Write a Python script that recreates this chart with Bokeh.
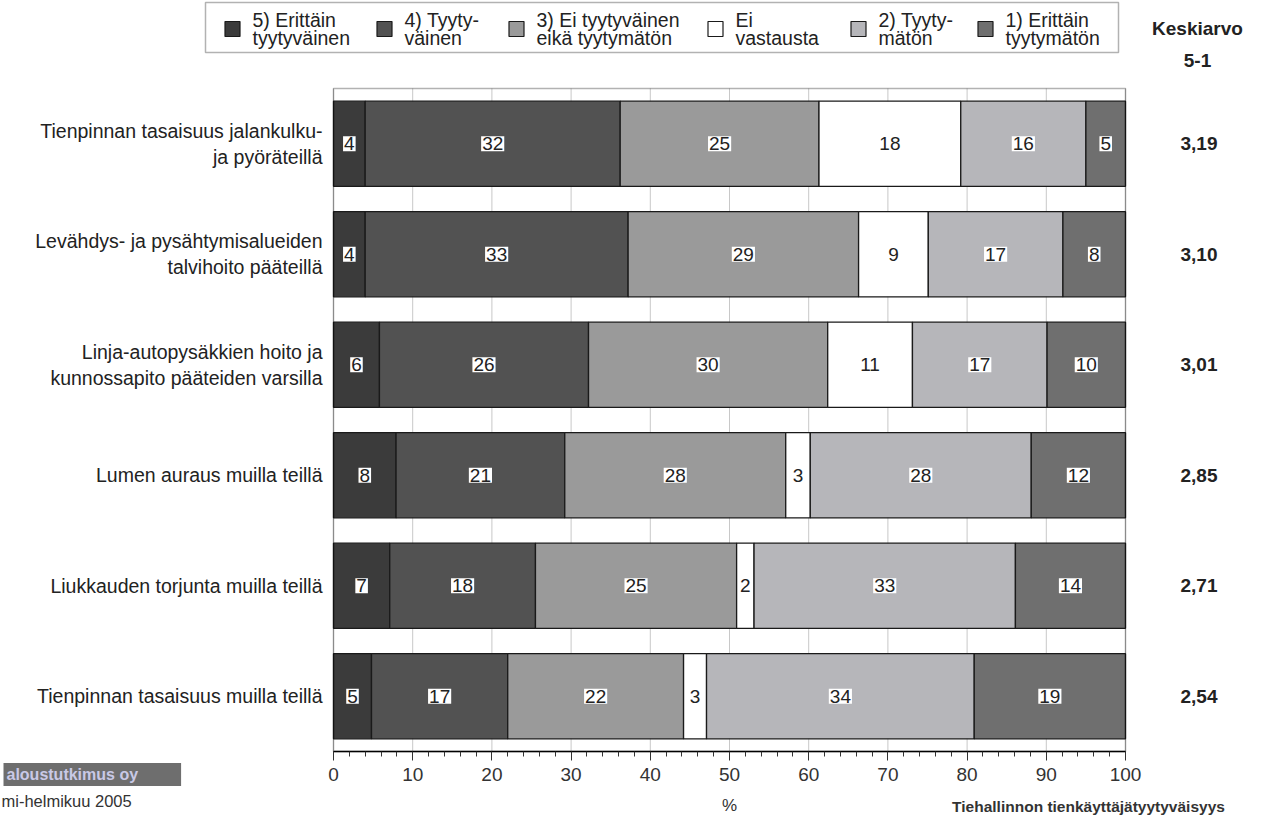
from bokeh.plotting import figure
from bokeh.models import (Range1d, LinearAxis, FixedTicker, Label, ColumnDataSource,
                          BoxAnnotation)
from bokeh.core.properties import value
from bokeh.embed import file_html
from bokeh.resources import INLINE

categories = [
    "Tienpinnan tasaisuus jalankulku-\nja pyöräteillä",
    "Levähdys- ja pysähtymisalueiden\ntalvihoito pääteillä",
    "Linja-autopysäkkien hoito ja\nkunnossapito pääteiden varsilla",
    "Lumen auraus muilla teillä",
    "Liukkauden torjunta muilla teillä",
    "Tienpinnan tasaisuus muilla teillä",
]
series_names = [
    "5) Erittäin\ntyytyväinen",
    "4) Tyyty-\nväinen",
    "3) Ei tyytyväinen\neikä tyytymätön",
    "Ei\nvastausta",
    "2) Tyyty-\nmätön",
    "1) Erittäin\ntyytymätön",
]
share_5 = [4.0, 4.0, 5.8, 7.9, 7.1, 4.8]
share_4 = [32.2, 33.2, 26.4, 21.3, 18.4, 17.2]
share_3 = [25.1, 29.1, 30.2, 27.9, 25.4, 22.2]
share_na = [17.9, 8.8, 10.7, 3.1, 2.2, 2.9]
share_2 = [15.8, 17.0, 17.0, 27.9, 33.0, 33.8]
share_1 = [5.0, 7.9, 9.9, 11.9, 13.9, 19.1]
means = [3.19, 3.10, 3.01, 2.85, 2.71, 2.54]
x_ticks = [0, 10, 20, 30, 40, 50, 60, 70, 80, 90, 100]
x_minor_ticks = list(range(0, 101, 2))

colors = ["#3b3b3b", "#525252", "#9a9a9a", "#ffffff", "#b6b6ba", "#6f6f6f"]
FONT = "Liberation Sans"

series = [share_5, share_4, share_3, share_na, share_2, share_1]
keys = ["s5", "s4", "s3", "sna", "s2", "s1"]
ypos = list(range(len(categories)))

data = {"y": ypos}
for k, s in zip(keys, series):
    data[k] = s
src = ColumnDataSource(data)

W, H = 1264, 819
# the plotting box spans 0..100 on x and -0.5..5.5 on y; the canvas holds also the surrounding texts
PX_X = 7.92      # pixels per percent
PX_Y = 110.5     # pixels per row
BOX_LEFT, BOX_TOP = 333, 88
x_start = -BOX_LEFT / PX_X
x_end = (W - BOX_LEFT) / PX_X
y_top = -0.5 - BOX_TOP / PX_Y
y_bottom = -0.5 + (H - BOX_TOP) / PX_Y


def px_to_x(px):
    return (px - BOX_LEFT) / PX_X


def px_to_y(py):
    return -0.5 + (py - BOX_TOP) / PX_Y


p = figure(width=W, height=H, x_range=Range1d(x_start, x_end), y_range=Range1d(y_bottom, y_top),
           output_backend="svg", toolbar_location=None, x_axis_location=None, y_axis_location=None,
           min_border=0, min_border_left=0, min_border_right=0, min_border_top=0, min_border_bottom=0)
p.outline_line_color = None
p.grid.visible = False

# vertical grid lines inside the box
p.segment(x0=x_ticks, y0=[-0.5] * len(x_ticks), x1=x_ticks, y1=[5.5] * len(x_ticks),
          line_color="#c8c8c8", line_width=1, level="underlay")

p.hbar_stack(keys, y="y", height=0.77, color=colors, line_color="#1a1a1a",
             line_width=1.3, source=src)

# plot box outline
p.add_layout(BoxAnnotation(left=0, right=100, top=-0.5, bottom=5.5, fill_alpha=0,
                           line_color="black", line_width=1.5))

# value labels
lx, ly, lt = [], [], []
for i in ypos:
    left = 0.0
    for s in series:
        v = s[i]
        lx.append(left + v / 2.0)
        ly.append(i)
        lt.append(str(int(round(v))))
        left += v
p.text(x=lx, y=ly, text=lt, text_align="center", text_baseline="middle",
       text_font=value(FONT), text_font_size="19px", text_color="#222222",
       background_fill_color="white", padding=1)

# x axis
xa = LinearAxis(fixed_location=5.5, bounds=(0, 100),
                ticker=FixedTicker(ticks=x_ticks, minor_ticks=x_minor_ticks))
xa.axis_line_color = "black"
xa.axis_line_width = 1.5
xa.major_tick_in = 0
xa.major_tick_out = 9
xa.minor_tick_in = 0
xa.minor_tick_out = 5
xa.major_tick_line_color = "#333333"
xa.minor_tick_line_color = "#333333"
xa.major_label_text_font = FONT
xa.major_label_text_font_size = "19px"
xa.major_label_text_color = "#333333"
xa.major_label_standoff = 7
xa.axis_label = "%"
xa.axis_label_text_font = FONT
xa.axis_label_text_font_size = "17px"
xa.axis_label_text_font_style = "normal"
xa.axis_label_text_color = "#333333"
xa.axis_label_standoff = 12
p.add_layout(xa, "below")

# left category axis
ya = LinearAxis(fixed_location=0, ticker=FixedTicker(ticks=ypos),
                major_label_overrides={i: c for i, c in zip(ypos, categories)})
ya.axis_line_color = None
ya.major_tick_line_color = None
ya.minor_tick_line_color = None
ya.major_tick_out = 0
ya.major_tick_in = 0
ya.major_label_standoff = 11
ya.major_label_text_font = FONT
ya.major_label_text_font_size = "19.5px"
ya.major_label_text_color = "#222222"
p.add_layout(ya, "left")

# right mean axis
ra = LinearAxis(fixed_location=100, ticker=FixedTicker(ticks=ypos),
                major_label_overrides={i: f"{m:.2f}".replace(".", ",") for i, m in zip(ypos, means)})
ra.axis_line_color = None
ra.major_tick_line_color = None
ra.minor_tick_line_color = None
ra.major_tick_out = 0
ra.major_tick_in = 0
ra.major_label_standoff = 55
ra.major_label_text_font = FONT
ra.major_label_text_font_size = "19px"
ra.major_label_text_font_style = "bold"
ra.major_label_text_color = "#222222"
p.add_layout(ra, "right")

# header of the mean column
p.add_layout(Label(x=px_to_x(1197), y=px_to_y(28), text="Keskiarvo", text_align="center",
                   text_baseline="middle", text_font=FONT, text_font_size="19px",
                   text_font_style="bold", text_color="#222222"))
p.add_layout(Label(x=px_to_x(1197), y=px_to_y(60), text="5-1", text_align="center",
                   text_baseline="middle", text_font=FONT, text_font_size="19px",
                   text_font_style="bold", text_color="#222222"))

# footer texts
p.add_layout(Label(x=px_to_x(1088), y=px_to_y(806), text="Tiehallinnon tienkäyttäjätyytyväisyys",
                   text_align="center", text_baseline="middle", text_font=FONT,
                   text_font_size="15.5px", text_font_style="bold", text_color="#333333"))
p.add_layout(Label(x=px_to_x(3), y=px_to_y(774),
                   text="aloustutkimus oy" + "\u00a0" * 9, text_align="left",
                   text_baseline="middle", text_font=FONT, text_font_size="16px",
                   text_font_style="bold", text_color="#c9c9e6",
                   background_fill_color="#6e6e6e", padding=3))
p.add_layout(Label(x=px_to_x(1), y=px_to_y(800), text="mi-helmikuu 2005", text_align="left",
                   text_baseline="middle", text_font=FONT, text_font_size="16.5px",
                   text_color="#333333"))

# legend: framed box with square swatches and two-line labels
LEG_LEFT, LEG_RIGHT, LEG_TOP, LEG_BOTTOM = 205, 1118, 2, 52
leg_text_px = [252, 404, 536, 735, 878, 1005]
leg_mid = 28.5
p.add_layout(BoxAnnotation(left=px_to_x(LEG_LEFT), right=px_to_x(LEG_RIGHT),
                           top=px_to_y(LEG_TOP), bottom=px_to_y(LEG_BOTTOM),
                           fill_color="white", fill_alpha=1, line_color="black",
                           line_width=1.5, level="underlay"))
p.scatter(x=[px_to_x(t - 20) for t in leg_text_px], y=[px_to_y(leg_mid)] * len(leg_text_px),
          marker="square", size=15, fill_color=colors, line_color="#1a1a1a", line_width=1.2)
p.text(x=[px_to_x(t) for t in leg_text_px], y=[px_to_y(leg_mid)] * len(leg_text_px),
       text=series_names, text_align="left", text_baseline="middle",
       text_font=value(FONT), text_font_size="19.5px", text_color="#222222",
       text_line_height=0.86)

open("out.html", "w").write(file_html(p, INLINE))
